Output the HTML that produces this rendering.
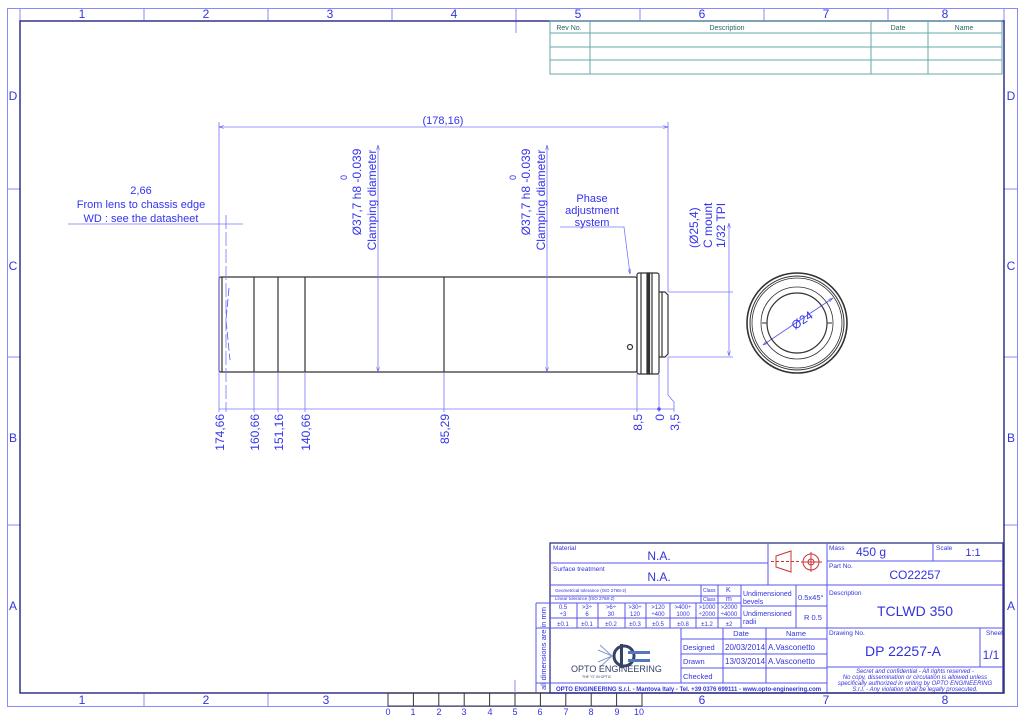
<!DOCTYPE html>
<html><head><meta charset="utf-8"><style>
html,body{margin:0;padding:0;background:#fff;}
svg{display:block;font-family:"Liberation Sans",sans-serif;}
</style></head><body>
<svg width="1024" height="715" viewBox="0 0 1024 715" xmlns="http://www.w3.org/2000/svg">
<defs>
<marker id="a" viewBox="0 0 10 6" refX="10" refY="3" markerWidth="7" markerHeight="4" orient="auto-start-reverse"><path d="M0,0 L10,3 L0,6" fill="none" stroke="#5555ee" stroke-width="1"/></marker>
</defs>
<!-- frame -->
<g fill="none" stroke="#8888ff" stroke-width="1">
<rect x="7.5" y="8.5" width="1010" height="698"/>
<line x1="20" y1="8" x2="20" y2="21"/><line x1="1004" y1="8" x2="1004" y2="21"/>
<line x1="144" y1="8" x2="144" y2="21"/><line x1="268" y1="8" x2="268" y2="21"/><line x1="392" y1="8" x2="392" y2="21"/><line x1="516" y1="8" x2="516" y2="21"/><line x1="640" y1="8" x2="640" y2="21"/><line x1="764" y1="8" x2="764" y2="21"/><line x1="888" y1="8" x2="888" y2="21"/>
<line x1="144" y1="693" x2="144" y2="706"/><line x1="268" y1="693" x2="268" y2="706"/>
<line x1="7" y1="189" x2="20" y2="189"/><line x1="7" y1="357" x2="20" y2="357"/><line x1="7" y1="525" x2="20" y2="525"/>
<line x1="1004" y1="189" x2="1017" y2="189"/><line x1="1004" y1="357" x2="1017" y2="357"/><line x1="1004" y1="525" x2="1017" y2="525"/>
<line x1="516" y1="21" x2="516" y2="33"/>
</g>
<rect x="20" y="21" width="984" height="672" fill="none" stroke="#333388" stroke-width="1.5"/>
<g fill="#3333dd" font-size="12" text-anchor="middle">
<text x="82" y="18">1</text><text x="206" y="18">2</text><text x="330" y="18">3</text><text x="454" y="18">4</text><text x="578" y="18">5</text><text x="702" y="18">6</text><text x="826" y="18">7</text><text x="945" y="18">8</text>
<text x="82" y="704">1</text><text x="206" y="704">2</text><text x="326" y="704">3</text><text x="702" y="704">6</text><text x="826" y="704">7</text><text x="945" y="704">8</text>
<text x="13" y="100">D</text><text x="13" y="270">C</text><text x="13" y="442">B</text><text x="13" y="610">A</text>
<text x="1011" y="100">D</text><text x="1011" y="270">C</text><text x="1011" y="442">B</text><text x="1011" y="610">A</text>
</g>
<!-- scale bar -->
<g stroke="#333" stroke-width="1" fill="none">
<rect x="388" y="693" width="254" height="13"/>
<line x1="413.4" y1="693" x2="413.4" y2="706"/><line x1="438.8" y1="693" x2="438.8" y2="706"/><line x1="464.2" y1="693" x2="464.2" y2="706"/><line x1="489.6" y1="693" x2="489.6" y2="706"/><line x1="515" y1="693" x2="515" y2="706"/><line x1="540.4" y1="693" x2="540.4" y2="706"/><line x1="565.8" y1="693" x2="565.8" y2="706"/><line x1="591.2" y1="693" x2="591.2" y2="706"/><line x1="616.6" y1="693" x2="616.6" y2="706"/>
</g>
<line x1="515" y1="680" x2="515" y2="693" stroke="#8888ff"/>
<g fill="#3333dd" font-size="9" text-anchor="middle">
<text x="388" y="715">0</text><text x="413" y="715">1</text><text x="439" y="715">2</text><text x="464" y="715">3</text><text x="490" y="715">4</text><text x="515" y="715">5</text><text x="540" y="715">6</text><text x="566" y="715">7</text><text x="591" y="715">8</text><text x="617" y="715">9</text><text x="639" y="715">10</text>
</g>
<!-- revision table -->
<g stroke="#66aaaa" stroke-width="1" fill="none">
<rect x="550" y="21" width="452" height="53"/>
<line x1="550" y1="33" x2="1002" y2="33"/><line x1="550" y1="47" x2="1002" y2="47"/><line x1="550" y1="60" x2="1002" y2="60"/>
<line x1="590" y1="21" x2="590" y2="74"/><line x1="871" y1="21" x2="871" y2="74"/><line x1="928" y1="21" x2="928" y2="74"/>
</g>
<g fill="#226666" font-size="7" text-anchor="middle">
<text x="569" y="30">Rev No.</text><text x="727" y="30">Description</text><text x="898" y="30">Date</text><text x="964" y="30">Name</text>
</g>
<!-- main body -->
<g stroke="#333" stroke-width="1.2" fill="none">
<rect x="219" y="277" width="418" height="95" rx="2"/>
<line x1="222" y1="277" x2="222" y2="372"/>
<line x1="254" y1="277" x2="254" y2="372"/><line x1="278" y1="277" x2="278" y2="372"/><line x1="305" y1="277" x2="305" y2="372"/><line x1="444" y1="277" x2="444" y2="372"/>
<rect x="637" y="273" width="22" height="101" rx="2"/>
<line x1="641" y1="273" x2="641" y2="374"/>
<rect x="647" y="273" width="2.5" height="101" fill="#333"/>
<line x1="652" y1="273" x2="652" y2="374"/>
<path d="M659,292 L665,292 L668,295 L668,354 L665,357 L659,357"/>
<line x1="662" y1="292" x2="662" y2="357"/>
<circle cx="630" cy="347" r="2.5"/>
</g>
<path d="M229,288 L226,320 L230,360" stroke="#5555ee" stroke-width="0.8" fill="none" stroke-dasharray="8 3"/>
<!-- dims (blue) -->
<g stroke="#7777ff" stroke-width="0.8" fill="none">
<line x1="219" y1="122" x2="219" y2="412"/><line x1="668" y1="122" x2="668" y2="292"/>
<line x1="219" y1="127" x2="668" y2="127" marker-start="url(#a)" marker-end="url(#a)"/>
<line x1="226" y1="215" x2="226" y2="412" stroke-dasharray="14 3"/>
<line x1="68" y1="224" x2="243" y2="224"/>
<line x1="378" y1="145" x2="378" y2="372" marker-start="url(#a)" marker-end="url(#a)"/>
<line x1="547" y1="145" x2="547" y2="372" marker-start="url(#a)" marker-end="url(#a)"/>
<line x1="219" y1="409" x2="674" y2="409"/>
<line x1="254" y1="372" x2="254" y2="412"/><line x1="278" y1="372" x2="278" y2="412"/><line x1="305" y1="372" x2="305" y2="412"/><line x1="444" y1="372" x2="444" y2="412"/>
<line x1="637" y1="374" x2="637" y2="412"/><line x1="659" y1="374" x2="659" y2="412"/>
<path d="M668,357 L668,395 L674,402 L674,412"/>
<path d="M560,227 L624,227 L630,274" marker-end="url(#a)"/>
<line x1="668" y1="292" x2="733" y2="292"/><line x1="668" y1="357" x2="733" y2="357"/>
<line x1="729" y1="223" x2="729" y2="356" marker-start="url(#a)" marker-end="url(#a)"/>
<line x1="763" y1="345" x2="833" y2="298" stroke="#5555ee" marker-start="url(#a)" marker-end="url(#a)"/>
</g>
<g fill="#5555ee"><circle cx="659" cy="409" r="1.8"/></g>
<!-- end view -->
<g stroke="#333" fill="none">
<circle cx="797" cy="323" r="50" stroke-width="1.6"/>
<circle cx="797" cy="323" r="47" stroke-width="1"/>
<circle cx="797" cy="323" r="45" stroke-width="0.8"/>
<circle cx="797" cy="323" r="36" stroke-width="0.8"/>
<circle cx="797" cy="323" r="30" stroke-width="1.2"/>
<line x1="762" y1="323" x2="767" y2="323"/><line x1="827" y1="323" x2="832" y2="323"/>
</g>
<!-- labels -->
<g fill="#3333ee" font-size="11">
<text x="443" y="124" text-anchor="middle">(178,16)</text>
<text x="141" y="194" text-anchor="middle">2,66</text>
<text x="141" y="208" text-anchor="middle">From lens to chassis edge</text>
<text x="141" y="222" text-anchor="middle">WD : see the datasheet</text>
<text x="592" y="202" text-anchor="middle">Phase</text>
<text x="592" y="214" text-anchor="middle">adjustment</text>
<text x="592" y="226" text-anchor="middle">system</text>
<g transform="translate(376,200) rotate(-90)" text-anchor="middle"><text font-size="12">Clamping diameter</text></g>
<g transform="translate(361,192) rotate(-90)" text-anchor="middle"><text font-size="12">Ø37,7 h8 -0.039</text></g>
<g transform="translate(347,180) rotate(-90)"><text font-size="9">0</text></g>
<g transform="translate(545,200) rotate(-90)" text-anchor="middle"><text font-size="12">Clamping diameter</text></g>
<g transform="translate(530,192) rotate(-90)" text-anchor="middle"><text font-size="12">Ø37,7 h8 -0.039</text></g>
<g transform="translate(516,180) rotate(-90)"><text font-size="9">0</text></g>
<g transform="translate(698,248) rotate(-90)"><text font-size="12">(Ø25,4)</text></g>
<g transform="translate(712,248) rotate(-90)"><text font-size="12">C mount</text></g>
<g transform="translate(725,248) rotate(-90)"><text font-size="12">1/32 TPI</text></g>
<g transform="translate(795,330) rotate(-34)"><text font-size="12">Ø24</text></g>
<g font-size="12" text-anchor="end">
<g transform="translate(224,414) rotate(-90)"><text>174,66</text></g>
<g transform="translate(259,414) rotate(-90)"><text>160,66</text></g>
<g transform="translate(283,414) rotate(-90)"><text>151,16</text></g>
<g transform="translate(310,414) rotate(-90)"><text>140,66</text></g>
<g transform="translate(449,414) rotate(-90)"><text>85,29</text></g>
<g transform="translate(642,414) rotate(-90)"><text>8,5</text></g>
<g transform="translate(664,414) rotate(-90)"><text>0</text></g>
<g transform="translate(679,414) rotate(-90)"><text>3,5</text></g>
</g>
</g>
<!-- title block -->
<g stroke="#5555ee" stroke-width="1" fill="none">
<rect x="550" y="543" width="453" height="150" stroke="#333388" stroke-width="1.3"/>
<line x1="550" y1="563" x2="768" y2="563"/>
<line x1="768" y1="543" x2="768" y2="585"/><line x1="827" y1="543" x2="827" y2="693"/>
<line x1="827" y1="561" x2="1003" y2="561"/><line x1="933" y1="543" x2="933" y2="561"/>
<line x1="550" y1="585" x2="1003" y2="585"/>
<line x1="550" y1="596" x2="741" y2="596"/>
<line x1="536" y1="603" x2="741" y2="603"/>
<line x1="550" y1="618" x2="741" y2="618"/>
<line x1="536" y1="628" x2="1003" y2="628"/>
<line x1="536" y1="603" x2="536" y2="693"/>
<line x1="577" y1="603" x2="577" y2="628"/><line x1="598" y1="603" x2="598" y2="628"/><line x1="625" y1="603" x2="625" y2="628"/><line x1="646" y1="603" x2="646" y2="628"/><line x1="670" y1="603" x2="670" y2="628"/><line x1="696" y1="603" x2="696" y2="628"/><line x1="718" y1="585" x2="718" y2="628"/>
<line x1="701" y1="585" x2="701" y2="603"/>
<line x1="741" y1="585" x2="741" y2="628"/><line x1="796" y1="585" x2="796" y2="628"/>
<line x1="741" y1="606" x2="827" y2="606"/>
<line x1="681" y1="628" x2="681" y2="683"/><line x1="723" y1="628" x2="723" y2="683"/><line x1="766" y1="628" x2="766" y2="683"/>
<line x1="681" y1="639" x2="827" y2="639"/><line x1="681" y1="654" x2="827" y2="654"/><line x1="681" y1="668" x2="827" y2="668"/>
<line x1="536" y1="683" x2="827" y2="683"/>
<line x1="827" y1="667" x2="1003" y2="667"/><line x1="980" y1="628" x2="980" y2="667"/>
</g>
<!-- symbol -->
<g stroke="#cc3333" fill="none" stroke-width="1">
<path d="M776,556 L791,551 L791,572 L776,567 Z"/>
<line x1="771" y1="561.5" x2="800" y2="561.5" stroke-dasharray="3 2"/>
<circle cx="811" cy="562" r="8"/><circle cx="811" cy="562" r="3"/>
<line x1="801" y1="562" x2="822" y2="562"/><line x1="811" y1="552" x2="811" y2="572"/>
</g>
<!-- logo -->
<g>
<path d="M598,650 L612,656 L598,662 M600,645 L612,656 L600,667" stroke="#8899cc" fill="none" stroke-width="1"/>
<circle cx="624" cy="656" r="10" fill="none" stroke="#334466" stroke-width="3"/>
<rect x="620" y="644" width="3" height="24" fill="#334466"/>
<rect x="628" y="651" width="22" height="3" fill="#5577bb"/><rect x="628" y="659" width="22" height="3" fill="#5577bb"/>
</g>
<g fill="#3333dd" font-size="6.5">
<text x="553" y="550">Material</text>
<text x="553" y="571">Surface treatment</text>
<text x="829" y="550">Mass</text><text x="936" y="550">Scale</text>
<text x="829" y="568">Part No.</text>
<text x="829" y="595">Description</text>
<text x="829" y="635">Drawing No.</text>
<text x="986" y="635">Sheet</text>
<text x="555" y="592" font-size="4.5">Geometrical tolerance (ISO 2768-2)</text>
<text x="555" y="600" font-size="4.5">Linear tolerance (ISO 2768-2)</text>
<text x="703" y="592" font-size="5">Class</text><text x="703" y="601" font-size="5">Class</text>
<text x="726" y="592" font-size="7">K</text><text x="726" y="601" font-size="7">m</text>
<text x="743" y="596" font-size="7">Undimensioned</text><text x="743" y="604" font-size="7">bevels</text>
<text x="743" y="616" font-size="7">Undimensioned</text><text x="743" y="624" font-size="7">radii</text>
<text x="798" y="600" font-size="7.5">0.5x45°</text><text x="804" y="620" font-size="7.5">R 0.5</text>
<g font-size="6" text-anchor="middle">
<text x="563" y="609">0.5</text><text x="563" y="616">÷3</text>
<text x="587" y="609">&gt;3÷</text><text x="587" y="616">6</text>
<text x="611" y="609">&gt;6÷</text><text x="611" y="616">30</text>
<text x="635" y="609">&gt;30÷</text><text x="635" y="616">120</text>
<text x="658" y="609">&gt;120</text><text x="658" y="616">÷400</text>
<text x="683" y="609">&gt;400÷</text><text x="683" y="616">1000</text>
<text x="707" y="609">&gt;1000</text><text x="707" y="616">÷2000</text>
<text x="729" y="609">&gt;2000</text><text x="729" y="616">÷4000</text>
<text x="563" y="626">±0.1</text><text x="587" y="626">±0.1</text><text x="611" y="626">±0.2</text><text x="635" y="626">±0.3</text><text x="658" y="626">±0.5</text><text x="683" y="626">±0.8</text><text x="707" y="626">±1.2</text><text x="729" y="626">±2</text>
</g>
<text x="741" y="636" font-size="7.5" text-anchor="middle">Date</text><text x="796" y="636" font-size="7.5" text-anchor="middle">Name</text>
<text x="683" y="650" font-size="7.5">Designed</text><text x="683" y="664" font-size="7.5">Drawn</text><text x="683" y="679" font-size="7.5">Checked</text>
<text x="725" y="650" font-size="8">20/03/2014</text><text x="768" y="650" font-size="8">A.Vasconetto</text>
<text x="725" y="664" font-size="8">13/03/2014</text><text x="768" y="664" font-size="8">A.Vasconetto</text>
<text x="571" y="672" font-size="9" fill="#334466">OPTO ENGINEERING</text>
<text x="582" y="678" font-size="3.5" fill="#334466">THE "O" IN OPTIC</text>
<text x="556" y="691" font-size="6" font-weight="bold">OPTO ENGINEERING S.r.l.  -  Mantova Italy -  Tel. +39 0376 699111  -  www.opto-engineering.com</text>
<g transform="translate(546,690) rotate(-90)"><text font-size="7.5">all dimensions are in mm</text></g>
<g font-size="12" text-anchor="middle">
<text x="659" y="560">N.A.</text><text x="659" y="581">N.A.</text>
<text x="871" y="556">450 g</text><text x="973" y="556" font-size="11">1:1</text>
<text x="915" y="579">CO22257</text>
<text x="915" y="616" font-size="14">TCLWD 350</text>
<text x="903" y="656" font-size="14">DP 22257-A</text>
<text x="991" y="659">1/1</text>
</g>
<g font-size="6" font-style="italic" text-anchor="middle">
<text x="915" y="673">Secret and confidential - All rights reserved -</text>
<text x="915" y="679">No copy, dissemination or circulation is allowed unless</text>
<text x="915" y="685">specifically authorized in writing by OPTO ENGINEERING</text>
<text x="915" y="691">S.r.l. - Any violation shall be legally prosecuted.</text>
</g>
</g>
</svg>
</body></html>
